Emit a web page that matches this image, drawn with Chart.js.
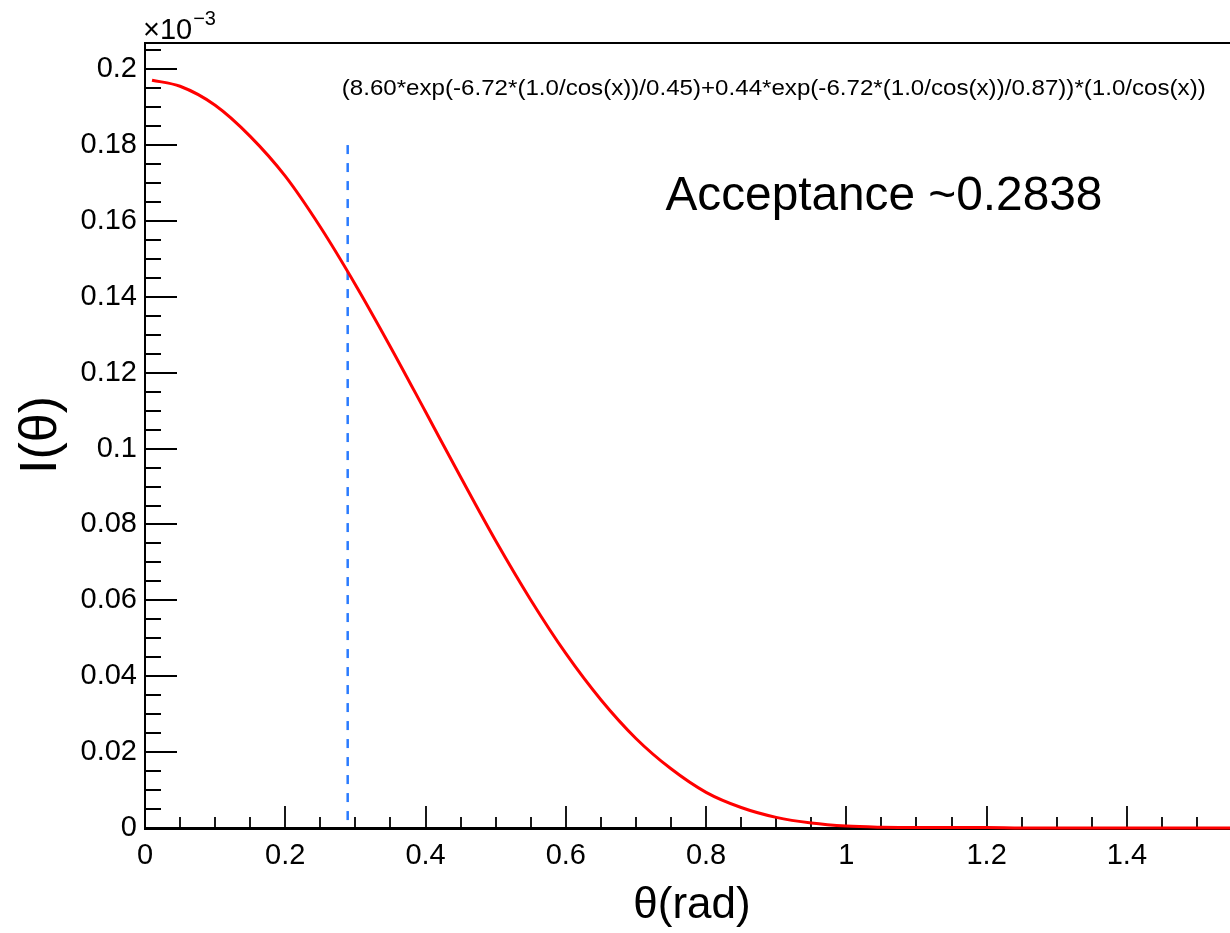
<!DOCTYPE html>
<html>
<head>
<meta charset="utf-8">
<script src="https://cdn.jsdelivr.net/npm/chart.js@4.4.0/dist/chart.umd.min.js"></script>
<style>
  html, body { margin: 0; padding: 0; background: #ffffff; }
  #wrap { width: 1230px; height: 933px; }
</style>
</head>
<body>
<div id="wrap"><canvas id="c" width="1230" height="933"></canvas></div>
<script>
// ---- data ----
const theta = [0.01, 0.05, 0.10, 0.15, 0.20, 0.25, 0.30, 0.35, 0.40, 0.45, 0.50, 0.55, 0.60, 0.65, 0.70, 0.75,
               0.80, 0.85, 0.90, 0.95, 1.00, 1.05, 1.10, 1.15, 1.20, 1.25, 1.30, 1.35, 1.40, 1.45, 1.50, 1.55];
const intensity = [0.1971, 0.1955, 0.1905, 0.1823, 0.1718, 0.1584, 0.1432, 0.1268, 0.1097, 0.0925, 0.0757, 0.0601,
                   0.0460, 0.0338, 0.0236, 0.0156, 0.0094, 0.0054, 0.0028, 0.0013, 0.0005, 0.0002, 0.0001, 0.0001,
                   0.0001, 0.0000, 0.0000, 0.0000, 0.0000, 0.0000, 0.0000, 0.0000];
const cutTheta = [0.289, 0.289];
const cutLevel = [0.18, 0.0];
const xTickValues = [0, 0.2, 0.4, 0.6, 0.8, 1.0, 1.2, 1.4];
const yTickValues = [0, 0.02, 0.04, 0.06, 0.08, 0.1, 0.12, 0.14, 0.16, 0.18, 0.2];
const xTitle = "θ(rad)";
const yTitle = "I(θ)";
const exponentBase = "×10";
const exponentPower = "−3";
const formulaText = "(8.60*exp(-6.72*(1.0/cos(x))/0.45)+0.44*exp(-6.72*(1.0/cos(x))/0.87))*(1.0/cos(x))";
const acceptanceText = "Acceptance ~0.2838";

const FONT = '"Liberation Sans", Arial, Helvetica, sans-serif';
const X_MIN = 0, X_MAX = 1.547, Y_MIN = 0, Y_MAX = 0.2069;

function fmt(v) { return String(+Number(v).toFixed(3)); }

const overlay = {
  id: 'overlay',
  beforeDatasetsDraw(chart) {
    const ctx = chart.ctx, a = chart.chartArea;
    const xs = chart.scales.x, ys = chart.scales.y;
    ctx.save();
    ctx.strokeStyle = '#000';
    // y ticks (inside frame, pointing right)
    ctx.lineWidth = 2;
    for (let i = 0; i * 0.005 <= Y_MAX + 1e-9; i++) {
      const py = Math.round(ys.getPixelForValue(i * 0.005));
      const len = (i % 4 === 0) ? 32 : 16;
      ctx.beginPath(); ctx.moveTo(a.left, py); ctx.lineTo(a.left + len, py); ctx.stroke();
    }
    // x ticks (inside frame, pointing up)
    ctx.lineWidth = 1.8;
    for (let i = 0; i * 0.05 <= X_MAX + 1e-9; i++) {
      const px = Math.round(xs.getPixelForValue(i * 0.05));
      const len = (i % 4 === 0) ? 22 : 11;
      ctx.beginPath(); ctx.moveTo(px, a.bottom); ctx.lineTo(px, a.bottom - len); ctx.stroke();
    }
    ctx.restore();
  },
  afterDraw(chart) {
    const ctx = chart.ctx, a = chart.chartArea;
    const xs = chart.scales.x, ys = chart.scales.y;
    ctx.save();
    // top frame line
    ctx.strokeStyle = '#000'; ctx.lineWidth = 2;
    ctx.beginPath(); ctx.moveTo(a.left, a.top); ctx.lineTo(a.right + 5, a.top); ctx.stroke();

    ctx.fillStyle = '#000';
    ctx.textBaseline = 'alphabetic';
    // exponent label
    ctx.textAlign = 'left';
    ctx.font = '29px ' + FONT;
    ctx.fillText(exponentBase, a.left - 2, 39);
    const wb = ctx.measureText(exponentBase).width;
    ctx.font = '20px ' + FONT;
    ctx.fillText(exponentPower, a.left - 2 + wb + 1, 25);

    // formula text, fitted to its width in the reference
    ctx.font = '22px ' + FONT;
    const fw = ctx.measureText(formulaText).width;
    const fx = xs.getPixelForValue(0.2805), fy = ys.getPixelForValue(0.1933);
    ctx.save();
    ctx.translate(fx, fy);
    ctx.scale(864 / fw, 1);
    ctx.fillText(formulaText, 0, 0);
    ctx.restore();

    // acceptance text
    ctx.font = '49px ' + FONT;
    const aw = ctx.measureText(acceptanceText).width;
    const ax = xs.getPixelForValue(0.742), ay = ys.getPixelForValue(0.1629);
    ctx.save();
    ctx.translate(ax, ay);
    ctx.scale(437 / aw, 1);
    ctx.fillText(acceptanceText, 0, 0);
    ctx.restore();

    // x title
    ctx.textAlign = 'center';
    ctx.font = '44px ' + FONT;
    ctx.fillText(xTitle, 692, 918);

    // y title (rotated)
    ctx.save();
    ctx.translate(56, 435);
    ctx.rotate(-Math.PI / 2);
    ctx.font = '52px ' + FONT;
    ctx.textAlign = 'center';
    ctx.fillText(yTitle, 0, 0);
    ctx.restore();
    ctx.restore();
  }
};

const curve = theta.map((t, i) => ({ x: t, y: intensity[i] }));
const cut = cutTheta.map((t, i) => ({ x: t, y: cutLevel[i] }));

new Chart(document.getElementById('c'), {
  type: 'line',
  data: {
    datasets: [
      {
        label: 'I(θ)',
        data: curve,
        borderColor: '#ff0000',
        borderWidth: 3,
        pointRadius: 0,
        cubicInterpolationMode: 'monotone',
        fill: false,
        clip: false
      },
      {
        label: 'cut',
        data: cut,
        borderColor: '#2a7bff',
        borderWidth: 2.5,
        borderDash: [9, 9],
        pointRadius: 0,
        fill: false,
        clip: false
      }
    ]
  },
  options: {
    responsive: false,
    animation: false,
    events: [],
    layout: { padding: { top: 43, right: 0, bottom: 0, left: 0 } },
    plugins: { legend: { display: false }, tooltip: { enabled: false }, title: { display: false } },
    scales: {
      x: {
        type: 'linear',
        min: X_MIN, max: X_MAX,
        afterFit(s) { s.height = 105; },
        afterBuildTicks(s) { s.ticks = xTickValues.map(v => ({ value: v })); },
        grid: { display: false, drawTicks: false },
        border: { display: true, color: '#000', width: 3 },
        ticks: {
          autoSkip: false, maxRotation: 0, padding: 11,
          color: '#000',
          font: { family: FONT, size: 29 },
          callback: (v) => fmt(v)
        }
      },
      y: {
        type: 'linear',
        min: Y_MIN, max: Y_MAX,
        afterFit(s) { s.width = 145; },
        afterBuildTicks(s) { s.ticks = yTickValues.map(v => ({ value: v })); },
        grid: { display: false, drawTicks: false },
        border: { display: true, color: '#000', width: 2 },
        ticks: {
          autoSkip: false, padding: 8,
          color: '#000',
          font: { family: FONT, size: 29 },
          callback: (v) => fmt(v)
        }
      }
    }
  },
  plugins: [overlay]
});
</script>
</body>
</html>
